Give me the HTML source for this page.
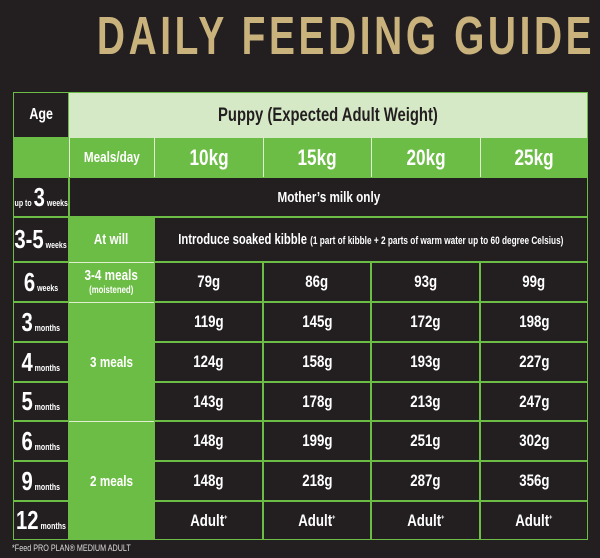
<!DOCTYPE html>
<html><head><meta charset="utf-8"><style>
body{margin:0;width:600px;height:558px;background:#231f20;overflow:hidden;font-family:"Liberation Sans",sans-serif;position:relative}
#title{position:absolute;left:0;top:6px;width:600px;text-align:center;line-height:60px;white-space:nowrap}
#title span{display:inline-block;font-size:54px;font-weight:bold;color:#c9b27c;letter-spacing:5px;transform:scaleX(.72)}
.c{position:absolute;box-sizing:border-box;display:flex;align-items:center;justify-content:center;color:#fff;font-weight:bold;text-align:center;white-space:nowrap}
.c>span.n{display:inline-block;transform:scaleX(.78)}
.d{background:#231f20;border:1.5px solid #6cbd45}
.g{background:#6cbd45}
.big{font-size:26px}
.sm{font-size:9px;font-weight:bold}
#foot{position:absolute;left:12px;top:543px;font-size:9px;color:#ddd;white-space:nowrap;transform:scaleX(.8);transform-origin:left}
</style></head><body>
<div id="title"><span>DAILY FEEDING GUIDE</span></div>
<div id="tbl"></div>
<div id="foot">*Feed PRO PLAN® MEDIUM ADULT</div>
<script>
const weights=["10kg","15kg","20kg","25kg"];
const ages=[["3","months"],["4","months"],["5","months"],["6","months"],["9","months"],["12","months"]];
const amounts10=["119g","124g","143g","148g","148g","Adult*"];
const amounts15=["145g","158g","178g","199g","218g","Adult*"];
const amounts20=["172g","193g","213g","251g","287g","Adult*"];
const amounts25=["198g","227g","247g","302g","356g","Adult*"];
const sixWeeks=["79g","86g","93g","99g"];
const X=[13,69,154,263,371,480,588];
const Y=[92,138,177,217,262,302,342,382,421,461,501,540];
const T=document.getElementById('tbl');
function cell(x0,x1,y0,y1,cls,html,name,fs){
 const d=document.createElement('div');
 d.className='c '+cls;
 d.style.left=x0+'px';d.style.top=y0+'px';d.style.width=(x1-x0)+'px';d.style.height=(y1-y0)+'px';
 if(fs)d.style.fontSize=fs+'px';
 d.innerHTML='<span class="n">'+html+'</span>';
 
 
 T.appendChild(d);return d;
}
cell(X[0],X[1],Y[0],Y[1],'d','Age','age-header',16);
const p=cell(X[1],X[6],Y[0],Y[1],'','Puppy (Expected Adult Weight)','puppy-header',19);
p.style.background='#d6e9c6';p.style.color='#231f20';p.style.borderTop='1.5px solid #6cbd45';p.style.borderRight='1.5px solid #6cbd45';
cell(X[0],X[6],Y[1],Y[2],'g','','subheader-band');
cell(X[1],X[2],Y[1],Y[2],'g','Meals/day','meals-header',15).style.borderLeft='1.5px solid #e0f0d0';
weights.forEach((w,i)=>{const c=cell(X[2+i],X[3+i],Y[1],Y[2],'g',w,'weight-header-'+w,22);c.style.borderLeft='1.5px solid #e0f0d0';});
function ageLabel(n,u){return '<span class="big">'+n+'</span><span class="sm">&nbsp;'+u+'</span>';}
cell(X[0],X[1],Y[2],Y[3],'d','<span class="sm">up to&nbsp;</span>'+ageLabel('3','weeks'),'age-up-to-3-weeks');
cell(X[1],X[6],Y[2],Y[3],'d','Mother’s milk only','mothers-milk',15);
cell(X[0],X[1],Y[3],Y[4],'d',ageLabel('3-5','weeks'),'age-3-5-weeks');
cell(X[1],X[2],Y[3],Y[4],'g','At will','meals-at-will',15);
const sk=cell(X[2],X[6],Y[3],Y[4],'d','Introduce soaked kibble&nbsp;<span style="font-size:11px">(1 part of kibble + 2 parts of warm water up to 60 degree Celsius)</span>','soaked-kibble-note',15);
sk.firstChild.style.transform='scaleX(.75)';
cell(X[0],X[1],Y[4],Y[5],'d',ageLabel('6','weeks'),'age-6-weeks');
const m34=cell(X[1],X[2],Y[4],Y[5],'g','3-4 meals<br><span style="font-size:10px">(moistened)</span>','meals-3-4',15);m34.style.lineHeight='13px';m34.style.borderTop='1.5px solid #e0f0d0';
sixWeeks.forEach((v,i)=>cell(X[2+i],X[3+i],Y[4],Y[5],'d',v,'amount-6-weeks-'+weights[i],17));
const m3=cell(X[1],X[2],Y[5],Y[8],'g','3 meals','meals-3',15);m3.style.borderTop='1.5px solid #e0f0d0';
const m2=cell(X[1],X[2],Y[8],Y[11],'g','2 meals','meals-2',15);m2.style.borderTop='1.5px solid #e0f0d0';
const cols=[amounts10,amounts15,amounts20,amounts25];
ages.forEach((a,r)=>{
 cell(X[0],X[1],Y[5+r],Y[6+r],'d',ageLabel(a[0],a[1]),'age-'+a[0]+'-months');
 cols.forEach((col,i)=>{const v=col[r];cell(X[2+i],X[3+i],Y[5+r],Y[6+r],'d',v.replace('*','<sup style="font-size:7px">+</sup>'),'amount-'+a[0]+'-months-'+weights[i],17);});
});
const b=cell(X[0],X[6],Y[0],Y[11],'','','table-border');b.style.border='1.5px solid #6cbd45';b.style.pointerEvents='none';
</script>
</body></html>
